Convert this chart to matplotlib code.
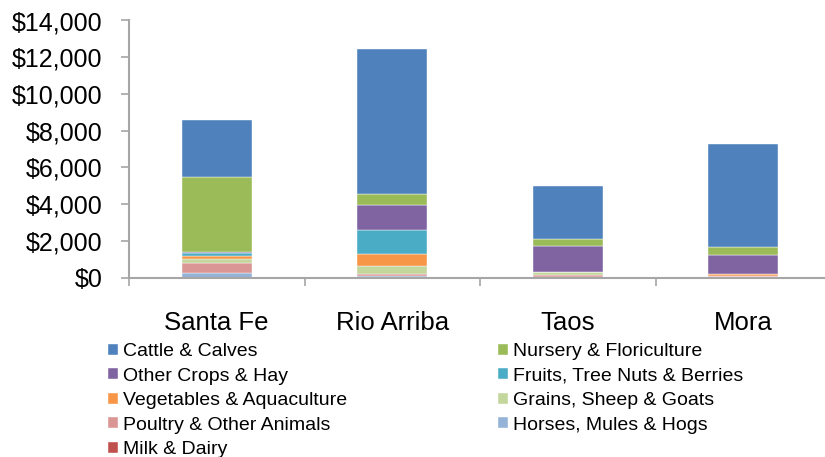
import numpy as np
import matplotlib.pyplot as plt
from matplotlib.ticker import FuncFormatter

plt.rcParams['font.family'] = ['Liberation Sans', 'DejaVu Sans']

# counties
counties = ["Santa Fe", "Rio Arriba", "Taos", "Mora"]

# sales by category, stacked bottom to top
milk = [0, 0, 0, 0]
horses = [270, 60, 40, 40]
poultry = [545, 130, 80, 60]
grains = [180, 435, 200, 0]
vegetables = [180, 680, 0, 80]
fruits = [180, 1280, 0, 0]
other_crops = [50, 1360, 1370, 1050]
nursery = [4050, 600, 390, 450]
cattle = [3100, 7900, 2900, 5600]

series = [
    ("Milk & Dairy", milk, "#C0504D"),
    ("Horses, Mules & Hogs", horses, "#95B3D7"),
    ("Poultry & Other Animals", poultry, "#DA9694"),
    ("Grains, Sheep & Goats", grains, "#C3D69B"),
    ("Vegetables & Aquaculture", vegetables, "#F79646"),
    ("Fruits, Tree Nuts & Berries", fruits, "#4BACC6"),
    ("Other Crops & Hay", other_crops, "#8064A2"),
    ("Nursery & Floriculture", nursery, "#9BBB59"),
    ("Cattle & Calves", cattle, "#4F81BD"),
]

fig = plt.figure(figsize=(8.25, 4.57), dpi=100)
ax = fig.add_axes([129 / 825, 1 - 277.5 / 457, 702 / 825, 257 / 457])

x = np.arange(len(counties))
bottom = np.zeros(len(counties))
bars = {}
for name, vals, col in series:
    vals = np.array(vals, dtype=float)
    bars[name] = ax.bar(x, vals, 0.4, bottom=bottom, color=col,
                        edgecolor="#FFFFFF", linewidth=0.3, label=name)
    bottom += vals

ax.set_xlim(-0.5, 3.5)
ax.set_ylim(0, 14000)
ax.set_yticks(np.arange(0, 14001, 2000))
ax.yaxis.set_major_formatter(FuncFormatter(lambda v, p: "${:,.0f}".format(v)))
ax.set_xticks(x)
ax.set_xticklabels(counties, fontsize=18.5)
ax.set_xticks(np.arange(-0.5, 3.6, 1), minor=True)

for s in ["top", "right"]:
    ax.spines[s].set_visible(False)
for s in ["left", "bottom"]:
    ax.spines[s].set_color("#A6A6A6")
    ax.spines[s].set_linewidth(1.5)

ax.tick_params(axis="y", labelsize=18, length=6, width=1.2, color="#A6A6A6", pad=13)
ax.tick_params(axis="x", which="major", length=0, pad=24)
ax.tick_params(axis="x", which="minor", length=6, width=1.2, color="#A6A6A6")

# legend filled column by column: two columns, five rows
order = ["Cattle & Calves", "Other Crops & Hay", "Vegetables & Aquaculture",
         "Poultry & Other Animals", "Milk & Dairy",
         "Nursery & Floriculture", "Fruits, Tree Nuts & Berries",
         "Grains, Sheep & Goats", "Horses, Mules & Hogs"]
fig.legend([bars[n] for n in order], order, ncol=2, frameon=False,
           loc="upper left", bbox_to_anchor=(108 / 825, 1 - 343 / 457),
           fontsize=14, handlelength=0.5, handleheight=0.5, handletextpad=0.25,
           labelspacing=0.39, columnspacing=7.8, borderpad=0, borderaxespad=0)

fig.savefig("out.png", dpi=100)
